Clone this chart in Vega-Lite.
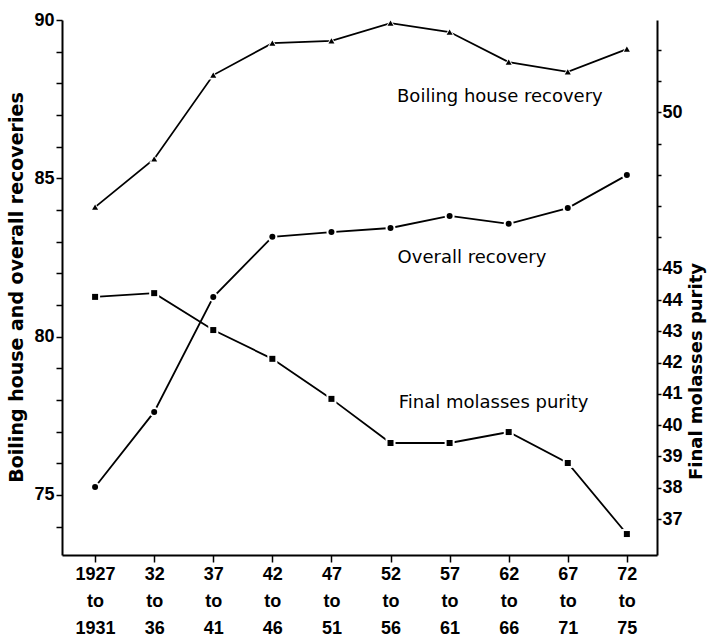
{
  "$schema": "https://vega.github.io/schema/vega-lite/v6.json",
  "width": 595,
  "height": 535,
  "autosize": {"type": "none"},
  "padding": {"left": 62, "top": 20, "right": 50, "bottom": 81},
  "background": "white",
  "config": {
    "view": {"stroke": null},
    "axis": {
      "domainColor": "black",
      "tickColor": "black",
      "labelColor": "black",
      "titleColor": "black",
      "grid": false,
      "domainWidth": 2,
      "tickWidth": 1.5,
      "labelFont": "Liberation Sans",
      "labelFontWeight": "bold",
      "labelFontSize": 18,
      "titleFont": "DejaVu Sans",
      "titleFontWeight": "bold",
      "titleFontSize": 19
    }
  },
  "datasets": {
    "recoveries": [
      {"start": 1927, "series": "Boiling house recovery", "value": 84.09},
      {"start": 1932, "series": "Boiling house recovery", "value": 85.61},
      {"start": 1937, "series": "Boiling house recovery", "value": 88.26},
      {"start": 1942, "series": "Boiling house recovery", "value": 89.27},
      {"start": 1947, "series": "Boiling house recovery", "value": 89.34},
      {"start": 1952, "series": "Boiling house recovery", "value": 89.9},
      {"start": 1957, "series": "Boiling house recovery", "value": 89.62},
      {"start": 1962, "series": "Boiling house recovery", "value": 88.67},
      {"start": 1967, "series": "Boiling house recovery", "value": 88.36},
      {"start": 1972, "series": "Boiling house recovery", "value": 89.08},
      {"start": 1927, "series": "Overall recovery", "value": 75.25},
      {"start": 1932, "series": "Overall recovery", "value": 77.62},
      {"start": 1937, "series": "Overall recovery", "value": 81.25},
      {"start": 1942, "series": "Overall recovery", "value": 83.15},
      {"start": 1947, "series": "Overall recovery", "value": 83.3},
      {"start": 1952, "series": "Overall recovery", "value": 83.43},
      {"start": 1957, "series": "Overall recovery", "value": 83.81},
      {"start": 1962, "series": "Overall recovery", "value": 83.56},
      {"start": 1967, "series": "Overall recovery", "value": 84.06},
      {"start": 1972, "series": "Overall recovery", "value": 85.1}
    ],
    "purity": [
      {"start": 1927, "purity": 44.1},
      {"start": 1932, "purity": 44.22},
      {"start": 1937, "purity": 43.04},
      {"start": 1942, "purity": 42.12},
      {"start": 1947, "purity": 40.84},
      {"start": 1952, "purity": 39.43},
      {"start": 1957, "purity": 39.43},
      {"start": 1962, "purity": 39.78},
      {"start": 1967, "purity": 38.79},
      {"start": 1972, "purity": 36.52}
    ],
    "labels": [
      {"label": "Boiling house recovery", "start": 1952.55, "value": 87.41},
      {"label": "Overall recovery", "start": 1952.6, "value": 82.32},
      {"label": "Final molasses purity", "start": 1952.7, "value": 77.74}
    ]
  },
  "layer": [
    {
      "data": {"name": "recoveries"},
      "encoding": {
        "x": {
          "field": "start",
          "type": "quantitative",
          "scale": {"domain": [1924.2, 1974.55], "nice": false, "zero": false},
          "axis": {
            "title": null,
            "values": [1927, 1932, 1937, 1942, 1947, 1952, 1957, 1962, 1967, 1972],
            "labelExpr": "datum.value == 1927 ? ['1927','to','1931'] : datum.value == 1972 ? ['72','to','75'] : [slice(toString(datum.value),2), 'to', slice(toString(datum.value+4),2)]",
            "tickSize": 7,
            "labelPadding": 3,
            "labelLineHeight": 27,
            "labelBaseline": "top",
            "labelAlign": "center",
            "labelFlush": false,
            "labelOverlap": false
          }
        },
        "y": {
          "field": "value",
          "type": "quantitative",
          "scale": {"domain": [73.1, 90], "nice": false, "zero": false},
          "axis": {
            "orient": "left",
            "values": [74, 75, 76, 77, 78, 79, 80, 81, 82, 83, 84, 85, 86, 87, 88, 89, 90],
            "labelExpr": "datum.value % 5 == 0 ? datum.label : ''",
            "tickSize": 6,
            "labelPadding": 2,
            "title": "Boiling house and overall recoveries",
            "titleX": -46,
            "titleY": 267,
            "titleAngle": 270,
            "titleAlign": "center",
            "titleBaseline": "middle"
          }
        }
      },
      "layer": [
        {
          "mark": {"type": "line", "color": "black", "strokeWidth": 1.8},
          "encoding": {"detail": {"field": "series"}}
        },
        {
          "mark": {"type": "point", "filled": true, "color": "white", "opacity": 1, "size": 100},
          "encoding": {
            "shape": {"field": "series", "type": "nominal", "scale": {"domain": ["Boiling house recovery", "Overall recovery"], "range": ["triangle-up", "circle"]}, "legend": null}
          }
        },
        {
          "mark": {"type": "point", "filled": true, "color": "black", "opacity": 1, "size": 36},
          "encoding": {
            "shape": {"field": "series", "type": "nominal", "scale": {"domain": ["Boiling house recovery", "Overall recovery"], "range": ["triangle-up", "circle"]}, "legend": null}
          }
        },
        {
          "data": {"name": "labels"},
          "mark": {"type": "text", "font": "DejaVu Sans", "fontSize": 18, "align": "left", "baseline": "alphabetic", "color": "black"},
          "encoding": {"text": {"field": "label", "type": "nominal"}}
        }
      ]
    },
    {
      "data": {"name": "purity"},
      "encoding": {
        "x": {"field": "start", "type": "quantitative", "scale": {"domain": [1924.2, 1974.55], "nice": false, "zero": false}},
        "y": {
          "field": "purity",
          "type": "quantitative",
          "scale": {"domain": [35.85, 52.95], "nice": false, "zero": false},
          "axis": {
            "orient": "right",
            "values": [37, 38, 39, 40, 41, 42, 43, 44, 45, 46, 47, 48, 49, 50, 51, 52],
            "labelExpr": "(datum.value <= 45 || datum.value == 50) ? datum.label : ''",
            "tickSize": 4,
            "labelPadding": 1,
            "title": "Final molasses purity",
            "titleX": 39,
            "titleY": 351,
            "titleAngle": 270,
            "titleAlign": "center",
            "titleBaseline": "middle",
            "titleFontSize": 18
          }
        }
      },
      "layer": [
        {"mark": {"type": "line", "color": "black", "strokeWidth": 1.8}},
        {"mark": {"type": "point", "shape": "square", "filled": true, "color": "white", "opacity": 1, "size": 100}},
        {"mark": {"type": "point", "shape": "square", "filled": true, "color": "black", "opacity": 1, "size": 36}}
      ]
    }
  ],
  "resolve": {"scale": {"y": "independent"}}
}
